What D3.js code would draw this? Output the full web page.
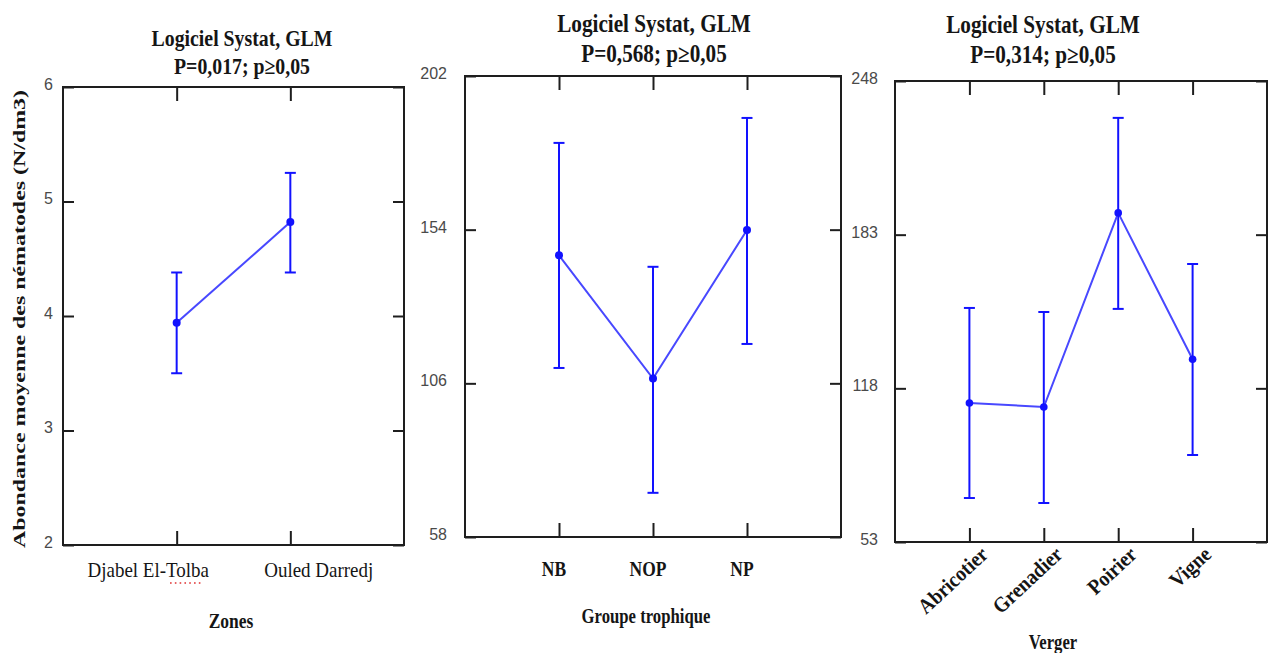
<!DOCTYPE html>
<html>
<head>
<meta charset="utf-8">
<script src="https://cdn.jsdelivr.net/npm/d3@7"></script>
<style>
  html, body { margin: 0; padding: 0; background: #fff; }
  svg { display: block; }
</style>
</head>
<body>
<svg id="chart" width="1273" height="653"></svg>
<script>
// ---- Texts ----
const titleLine = "Logiciel Systat, GLM";
const pLines = ["P=0,017; p\u22650,05", "P=0,568; p\u22650,05", "P=0,314; p\u22650,05"];
const yTitle = "Abondance moyenne des nématodes (N/dm3)";

// ---- Zones ----
const zones = ["Djabel El-Tolba", "Ouled Darredj"];
const zoneMeans = [3.94, 4.82];
const zoneLow = [3.50, 4.38];
const zoneHigh = [4.38, 5.25];
const zoneTicks = [2, 3, 4, 5, 6];

// ---- Groupe trophique ----
const groups = ["NB", "NOP", "NP"];
const groupMeans = [146.0, 107.5, 153.9];
const groupLow = [110.8, 71.8, 118.3];
const groupHigh = [181.1, 142.4, 188.9];
const groupTicks = [58, 106, 154, 202];

// ---- Verger ----
const vergers = ["Abricotier", "Grenadier", "Poirier", "Vigne"];
const vergerMeans = [111.8, 110.1, 192.2, 130.3];
const vergerLow = [71.6, 69.5, 151.6, 89.8];
const vergerHigh = [152.0, 150.3, 232.4, 170.6];
const vergerTicks = [53, 118, 183, 248];

const SERIF = "'Liberation Serif', 'Times New Roman', serif";
const SANS = "'Liberation Sans', Arial, sans-serif";
const FRAME = "#1e1e1e";
const BAR = "#1212ff";
const LINE = "#4848ff";
const INK = "#151515";

const svg = d3.select("#chart");
svg.append("rect").attr("width", 1273).attr("height", 653).attr("fill", "#fff");

function panel(o) {
  const g = svg.append("g");
  const n = o.cats.length;
  const pos = d3.range(1, n + 1);
  const x = d3.scaleLinear().domain([0, n + 1]).range([o.left, o.right]);
  const y = d3.scaleLinear()
    .domain([o.ticks[0], o.ticks[o.ticks.length - 1]])
    .range([o.bottom, o.top]);

  // inward ticks on all four sides
  const styleAxis = sel => {
    sel.select(".domain").remove();
    sel.selectAll("line").attr("stroke", FRAME).attr("stroke-width", 2);
  };
  const ax = g.append("g").attr("transform", `translate(${o.left},0)`)
    .call(d3.axisLeft(y).tickValues(o.ticks).tickFormat(d3.format("d"))
      .tickSizeInner(-11).tickSizeOuter(0).tickPadding(o.pad));
  styleAxis(ax);
  ax.attr("font-family", SANS).attr("font-size", 16);
  ax.selectAll("text").attr("fill", "#4a4a4a").attr("dy", "0.15em");

  g.append("g").attr("transform", `translate(${o.right},0)`)
    .call(d3.axisRight(y).tickValues(o.ticks).tickSizeInner(-11).tickSizeOuter(0).tickFormat(""))
    .call(styleAxis);
  g.append("g").attr("transform", `translate(0,${o.top})`)
    .call(d3.axisTop(x).tickValues(pos).tickSizeInner(-14).tickSizeOuter(0).tickFormat(""))
    .call(styleAxis);
  g.append("g").attr("transform", `translate(0,${o.bottom})`)
    .call(d3.axisBottom(x).tickValues(pos).tickSizeInner(-14).tickSizeOuter(0).tickFormat(""))
    .call(styleAxis);

  // frame
  g.append("rect")
    .attr("x", o.left).attr("y", o.top)
    .attr("width", o.right - o.left).attr("height", o.bottom - o.top)
    .attr("fill", "none").attr("stroke", FRAME).attr("stroke-width", 2);

  // error bars
  const cap = 5.5;
  const eb = g.append("g").attr("stroke", BAR).attr("stroke-width", 2);
  o.cats.forEach((c, i) => {
    const cx = x(i + 1);
    eb.append("line").attr("x1", cx).attr("x2", cx).attr("y1", y(o.low[i])).attr("y2", y(o.high[i]));
    eb.append("line").attr("x1", cx - cap).attr("x2", cx + cap).attr("y1", y(o.low[i])).attr("y2", y(o.low[i]));
    eb.append("line").attr("x1", cx - cap).attr("x2", cx + cap).attr("y1", y(o.high[i])).attr("y2", y(o.high[i]));
  });

  // mean line and points
  const line = d3.line().x((d, i) => x(i + 1)).y(d => y(d));
  g.append("path").datum(o.means).attr("d", line)
    .attr("fill", "none").attr("stroke", LINE).attr("stroke-width", 2);
  g.selectAll(null).data(o.means).join("circle")
    .attr("cx", (d, i) => x(i + 1)).attr("cy", d => y(d))
    .attr("r", o.r).attr("fill", BAR);

  // title
  const tt = g.append("g").attr("font-family", SERIF).attr("font-weight", "bold")
    .attr("font-size", o.titleSize).attr("fill", INK).attr("text-anchor", "middle");
  tt.append("text").attr("transform", `translate(${o.titleX},${o.t1}) scale(1,1.15)`).text(titleLine);
  tt.append("text").attr("transform", `translate(${o.titleX},${o.t2}) scale(1,1.15)`).text(o.pLine);

  // category labels
  const lab = g.append("g").attr("font-family", SERIF).attr("fill", INK);
  if (o.mode === "band") {
    const band = d3.scaleBand().domain(o.cats).range([o.left, o.right]);
    const cx = d => band(d) + band.bandwidth() / 2;
    lab.attr("font-size", 19).attr("text-anchor", "middle");
    lab.selectAll("text").data(o.cats).join("text")
      .attr("transform", d => `translate(${cx(d)},${o.labelY}) scale(1,1.12)`)
      .text(d => d);
    // spell-check dots under "Tolb"
    const node = lab.select("text").node();
    const s = node.getStartPositionOfChar(10);
    const e = node.getEndPositionOfChar(13);
    const ox = cx(o.cats[0]);
    g.append("line").attr("x1", ox + s.x + 4).attr("x2", ox + e.x)
      .attr("y1", o.labelY + 6).attr("y2", o.labelY + 6)
      .attr("stroke", "#e03030").attr("stroke-width", 1.6).attr("stroke-dasharray", "1.6,3.2");
  } else if (o.mode === "tick") {
    lab.attr("font-size", 17.5).attr("font-weight", "bold").attr("text-anchor", "middle");
    lab.selectAll("text").data(o.cats).join("text")
      .attr("transform", (d, i) => `translate(${x(i + 1) - 5},${o.labelY}) scale(1,1.2)`)
      .text(d => d);
  } else {
    lab.attr("font-size", 19.5).attr("font-weight", "bold").attr("text-anchor", "end");
    lab.selectAll("text").data(o.cats).join("text")
      .attr("transform", (d, i) => `translate(${x(i + 1) + 20},${o.labelY}) rotate(-43) scale(1,1.1)`)
      .text(d => d);
  }

  // axis title
  g.append("text").attr("font-family", SERIF).attr("font-weight", "bold")
    .attr("font-size", o.axisSize).attr("fill", INK).attr("text-anchor", "middle")
    .attr("transform", `translate(${o.axisX},${o.axisY}) scale(1,1.25)`)
    .text(o.axisTitle);
}

panel({
  cats: zones, means: zoneMeans, low: zoneLow, high: zoneHigh, ticks: zoneTicks,
  left: 63, right: 404, top: 87, bottom: 545, pad: 10, r: 4,
  titleX: 242, t1: 46, t2: 74, titleSize: 19.8, pLine: pLines[0],
  mode: "band", labelY: 577,
  axisTitle: "Zones", axisX: 231, axisY: 628, axisSize: 17.5
});
panel({
  cats: groups, means: groupMeans, low: groupLow, high: groupHigh, ticks: groupTicks,
  left: 465, right: 841, top: 76, bottom: 537, pad: 18, r: 4,
  titleX: 654, t1: 32, t2: 62, titleSize: 21.2, pLine: pLines[1],
  mode: "tick", labelY: 576,
  axisTitle: "Groupe trophique", axisX: 646, axisY: 623, axisSize: 16.7
});
panel({
  cats: vergers, means: vergerMeans, low: vergerLow, high: vergerHigh, ticks: vergerTicks,
  left: 895, right: 1267, top: 81, bottom: 542, pad: 17, r: 3.8,
  titleX: 1043, t1: 33, t2: 63, titleSize: 21.2, pLine: pLines[2],
  mode: "rot", labelY: 556,
  axisTitle: "Verger", axisX: 1053, axisY: 649, axisSize: 16.7
});

// shared y-axis title
svg.append("text")
  .attr("transform", "translate(25,319) rotate(-90)")
  .attr("font-family", SERIF).attr("font-weight", "bold").attr("font-size", 17.5)
  .attr("fill", INK).attr("text-anchor", "middle")
  .attr("textLength", 458).attr("lengthAdjust", "spacingAndGlyphs")
  .text(yTitle);
</script>
</body>
</html>
